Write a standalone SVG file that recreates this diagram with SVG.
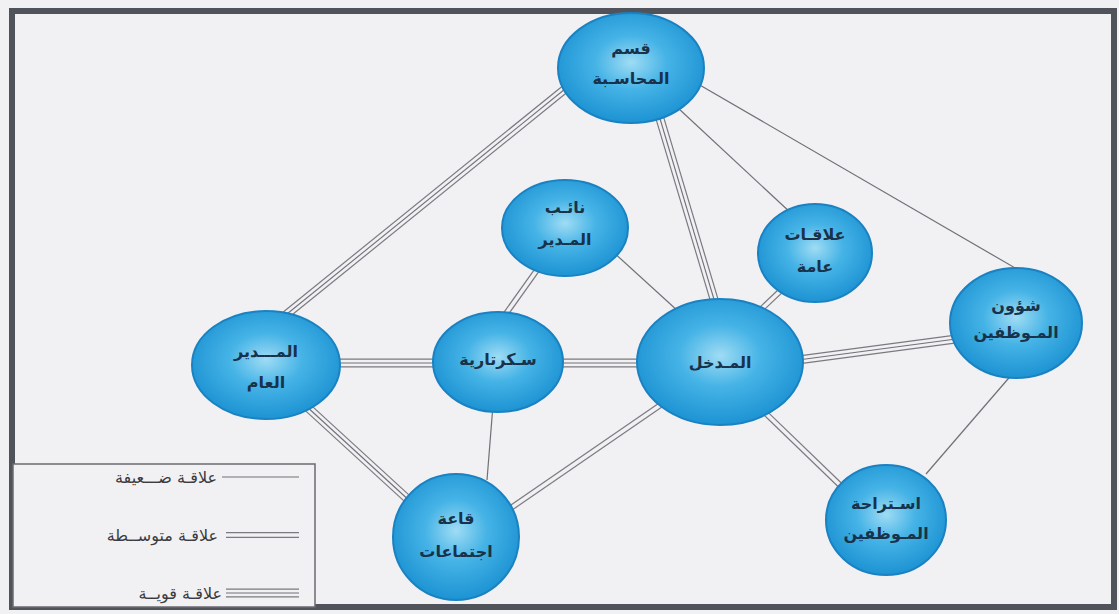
<svg xmlns="http://www.w3.org/2000/svg" width="1119" height="614" viewBox="0 0 1119 614">
<defs>
<radialGradient id="blue" cx="50%" cy="45%" r="55%">
<stop offset="0" stop-color="#9fdcf4"/>
<stop offset="0.45" stop-color="#45b3e6"/>
<stop offset="1" stop-color="#1d93d3"/>
</radialGradient>
<style>
.node ellipse{fill:url(#blue);stroke:#1a82c2;stroke-width:2}
.node text{font-family:"DejaVu Sans",sans-serif;font-weight:bold;font-size:16px;fill:#17324a;text-anchor:middle}
.s{stroke:#707078;stroke-width:1.2;fill:none}
.d1{stroke:#7a7a80;stroke-width:6;fill:none}
.d2{stroke:#f1f0f3;stroke-width:3.6;fill:none}
.t1{stroke:#7a7a80;stroke-width:9;fill:none}
.t2{stroke:#f1f0f3;stroke-width:6.6;fill:none}
.t3{stroke:#707078;stroke-width:1.1;fill:none}
.lg{font-family:"DejaVu Sans",sans-serif;font-size:16px;fill:#3a3a40;text-anchor:end}
</style>
</defs>
<rect x="0" y="0" width="1119" height="614" fill="#f1f0f3"/>
<rect x="12" y="11" width="1102" height="596" fill="#f1f0f3" stroke="#50545a" stroke-width="6"/>

<g id="connectors">
<g>
<path class="t1" d="M570 85 L282 318"/><path class="t2" d="M570 85 L282 318"/><path class="t3" d="M570 85 L282 318"/>
<path class="t1" d="M658 112 L716 306"/><path class="t2" d="M658 112 L716 306"/><path class="t3" d="M658 112 L716 306"/>
<path class="t1" d="M336 363 L436 363"/><path class="t2" d="M336 363 L436 363"/><path class="t3" d="M336 363 L436 363"/>
<path class="t1" d="M560 363 L642 363"/><path class="t2" d="M560 363 L642 363"/><path class="t3" d="M560 363 L642 363"/>
<path class="t1" d="M798 360 L956 339"/><path class="t2" d="M798 360 L956 339"/><path class="t3" d="M798 360 L956 339"/>
<path class="t1" d="M305 405 L412 503"/><path class="t2" d="M305 405 L412 503"/><path class="t3" d="M305 405 L412 503"/>
</g>
<g>
<path class="d1" d="M542 263 L500 322"/><path class="d2" d="M542 263 L500 322"/>
<path class="d1" d="M792 280 L754 316"/><path class="d2" d="M792 280 L754 316"/>
<path class="d1" d="M662 404 L505 512"/><path class="d2" d="M662 404 L505 512"/>
<path class="d1" d="M758 406 L842 487"/><path class="d2" d="M758 406 L842 487"/>
</g>
<g>
<path class="s" d="M678 108 L792 214"/>
<path class="s" d="M698 84 L1022 272"/>
<path class="s" d="M600 240 L690 322"/>
<path class="s" d="M493 405 L487 480"/>
<path class="s" d="M1014 372 L926 474"/>
</g>
</g>

<g id="node-accounting" class="node">
<ellipse cx="631" cy="68" rx="73" ry="55"/>
<text x="631" y="54">قسم</text>
<text x="631" y="84">المحاسـبة</text>
</g>
<g id="node-deputy" class="node">
<ellipse cx="565" cy="228" rx="63" ry="48"/>
<text x="565" y="213">نائـب</text>
<text x="565" y="245">المـدير</text>
</g>
<g id="node-pr" class="node">
<ellipse cx="815" cy="253" rx="57" ry="49"/>
<text x="815" y="240">علاقـات</text>
<text x="815" y="272">عامة</text>
</g>
<g id="node-hr" class="node">
<ellipse cx="1016" cy="323" rx="66" ry="55"/>
<text x="1016" y="311">شؤون</text>
<text x="1016" y="338">المـوظفين</text>
</g>
<g id="node-entrance" class="node">
<ellipse cx="720" cy="362" rx="83" ry="63"/>
<text x="720" y="368">المـدخل</text>
</g>
<g id="node-secretariat" class="node">
<ellipse cx="498" cy="362" rx="65" ry="50"/>
<text x="498" y="365">سـكرتارية</text>
</g>
<g id="node-gm" class="node">
<ellipse cx="266" cy="365" rx="74" ry="54"/>
<text x="266" y="357">المـــدير</text>
<text x="266" y="388">العام</text>
</g>
<g id="node-meeting" class="node">
<ellipse cx="456" cy="537" rx="63" ry="63"/>
<text x="456" y="524">قاعة</text>
<text x="456" y="557">اجتماعات</text>
</g>
<g id="node-rest" class="node">
<ellipse cx="886" cy="520" rx="60" ry="55"/>
<text x="886" y="509">اسـتراحة</text>
<text x="886" y="539">المـوظفين</text>
</g>

<g id="legend">
<rect x="13" y="464" width="302" height="143" fill="#f1f0f3" stroke="#6a6a70" stroke-width="1.5"/>
<path class="s" d="M222 477 L299 477"/>
<text class="lg" x="217" y="483">علاقـة ضـــعيفة</text>
<path class="d1" d="M226 535 L299 535"/><path class="d2" d="M226 535 L299 535"/>
<text class="lg" x="218" y="541">علاقـة متوســطة</text>
<path class="t1" d="M226 593 L299 593"/><path class="t2" d="M226 593 L299 593"/><path class="t3" d="M226 593 L299 593"/>
<text class="lg" x="222" y="599">علاقـة قويــة</text>
</g>
</svg>
